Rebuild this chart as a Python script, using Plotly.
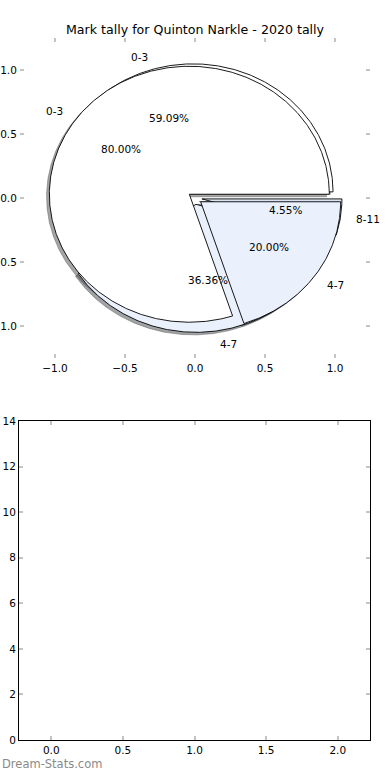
import numpy as np
import plotly.graph_objects as go

# ---- data ----
labels_a = ["0-3", "4-7", "8-11"]
values_a = [13, 8, 1]
labels_b = ["0-3", "4-7"]
values_b = [4, 1]
slice_colors = {"0-3": "#ffffff", "4-7": "#eaf0fc", "8-11": "#dae4f5"}
title_text = "Mark tally for Quinton Narkle - 2020 tally"
pie_ticks = [-1.0, -0.5, 0.0, 0.5, 1.0]
bar_xticks = [0.0, 0.5, 1.0, 1.5, 2.0]
bar_yticks = [0, 2, 4, 6, 8, 10, 12, 14]

# ---- style ----
FONT = "DejaVu Sans"
FS = 10.5
EXPLODE = 0.05
RADIUS = 1.0
SHADOW_OFF = (-0.02, -0.02)
TICKCOL = "#c4c4c4"
W, H = 390, 780


def fmt(v):
    s = "%.1f" % v
    return s.replace("-", "\u2212")


def pie_geometry(values, labels):
    total = float(sum(values))
    t1 = 0.0
    out = []
    for v, lab in zip(values, labels):
        frac = v / total
        t2 = t1 + 360.0 * frac
        mid = np.deg2rad((t1 + t2) / 2.0)
        cx, cy = EXPLODE * np.cos(mid), EXPLODE * np.sin(mid)
        ang = np.deg2rad(np.linspace(t1, t2, max(int(abs(t2 - t1)) * 2, 4)))
        xs = np.concatenate([[cx], cx + RADIUS * np.cos(ang), [cx]])
        ys = np.concatenate([[cy], cy + RADIUS * np.sin(ang), [cy]])
        out.append(dict(label=lab, xs=xs, ys=ys, cx=cx, cy=cy, mid=mid,
                        pct="%.2f%%" % (100.0 * frac)))
        t1 = t2
    return out


pies = [pie_geometry(values_a, labels_a), pie_geometry(values_b, labels_b)]

fig = go.Figure()

# shadows (below every wedge)
for pie in pies:
    for w in pie:
        c = slice_colors[w["label"]]
        r, g, b = int(c[1:3], 16), int(c[3:5], 16), int(c[5:7], 16)
        sc = "rgba(%d,%d,%d,0.5)" % (r * 0.3, g * 0.3, b * 0.3)
        fig.add_trace(go.Scatter(
            x=w["xs"] + SHADOW_OFF[0], y=w["ys"] + SHADOW_OFF[1],
            mode="lines", fill="toself", fillcolor=sc,
            line=dict(color=sc, width=0.8),
            hoverinfo="skip", showlegend=False, xaxis="x", yaxis="y"))

# wedges
for pie in pies:
    for w in pie:
        fig.add_trace(go.Scatter(
            x=w["xs"], y=w["ys"], mode="lines", fill="toself",
            fillcolor=slice_colors[w["label"]],
            line=dict(color="black", width=0.9),
            hoverinfo="skip", showlegend=False, xaxis="x", yaxis="y"))

annotations = []
for pie in pies:
    for w in pie:
        lx = w["cx"] + 1.1 * RADIUS * np.cos(w["mid"])
        ly = w["cy"] + 1.1 * RADIUS * np.sin(w["mid"])
        annotations.append(dict(
            x=lx, y=ly, xref="x", yref="y", text=w["label"], showarrow=False,
            xanchor="left" if lx > 0 else "right", yanchor="middle",
            font=dict(family=FONT, size=FS, color="black")))
        px = w["cx"] + 0.6 * RADIUS * np.cos(w["mid"])
        py = w["cy"] + 0.6 * RADIUS * np.sin(w["mid"])
        annotations.append(dict(
            x=px, y=py, xref="x", yref="y", text=w["pct"], showarrow=False,
            xanchor="center", yanchor="middle",
            font=dict(family=FONT, size=FS, color="black")))

annotations.append(dict(
    x=195 / W, y=1 - 30 / H, xref="paper", yref="paper", text=title_text,
    showarrow=False, xanchor="center", yanchor="middle",
    font=dict(family=FONT, size=12.6, color="black")))
annotations.append(dict(
    x=0, y=1 - 764 / H, xref="paper", yref="paper", text="Dream-Stats.com",
    showarrow=False, xanchor="left", yanchor="middle",
    font=dict(family=FONT, size=11.5, color="#8a8a8a")))

# empty bottom axes content (invisible anchor trace)
fig.add_trace(go.Scatter(x=[], y=[], xaxis="x2", yaxis="y2",
                         showlegend=False, hoverinfo="skip"))

common_tick = dict(ticks="inside", ticklen=4, tickwidth=1.5, tickcolor=TICKCOL,
                   showgrid=False, zeroline=False, automargin=False,
                   tickfont=dict(family=FONT, size=FS, color="black"))

fig.update_layout(
    width=W, height=H, margin=dict(l=0, r=0, t=0, b=0),
    paper_bgcolor="white", plot_bgcolor="white", showlegend=False,
    annotations=annotations,
    xaxis=dict(domain=[20 / W, 370 / W], anchor="y", range=[-1.25, 1.25],
               tickvals=pie_ticks, ticktext=[fmt(v) for v in pie_ticks],
               showline=True, linecolor="rgba(0,0,0,0)", mirror="ticks",
               **common_tick),
    yaxis=dict(domain=[1 - 358 / H, 1 - 38 / H], anchor="x", range=[-1.25, 1.25],
               tickvals=pie_ticks, ticktext=[fmt(v) for v in pie_ticks],
               showline=True, linecolor="rgba(0,0,0,0)", mirror="ticks",
               **common_tick),
    xaxis2=dict(domain=[19 / W, 370 / W], anchor="y2", range=[-0.225, 2.225],
                tickvals=bar_xticks, ticktext=[fmt(v) for v in bar_xticks],
                showline=True, linecolor="black", linewidth=1, mirror="ticks",
                **common_tick),
    yaxis2=dict(domain=[1 - 740 / H, 1 - 421 / H], anchor="x2", range=[0, 14],
                tickvals=bar_yticks, ticktext=[str(v) for v in bar_yticks],
                showline=True, linecolor="black", linewidth=1, mirror="ticks",
                **common_tick),
)

fig.write_html("out.html")
